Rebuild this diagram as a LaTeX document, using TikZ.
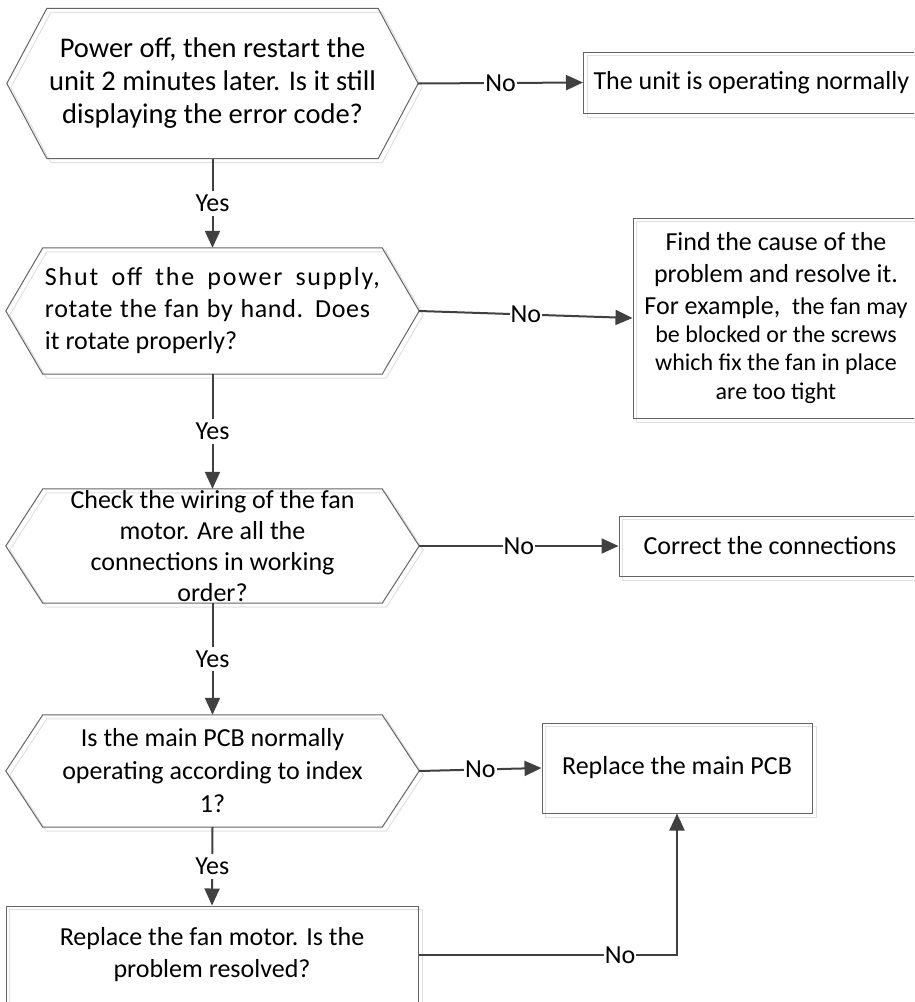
\documentclass[tikz,border=0pt]{standalone}
\usepackage{fontspec}
\setmainfont{Carlito}
\usepackage{xcolor}
\usepackage{tikz}
\usetikzlibrary{arrows.meta, positioning, calc, backgrounds}
\definecolor{linecolor}{HTML}{404040}
\definecolor{edgecolor}{HTML}{646464}
\definecolor{ghostcolor}{HTML}{E0E0E0}

\begin{document}
\begin{tikzpicture}[x=1pt, y=-1pt,
    decision/.style={rectangle, inner xsep=2pt, inner ysep=0pt, align=center, font=\fontsize{26pt}{32pt}\selectfont},
    outcome/.style={rectangle, draw=edgecolor, line width=1pt, inner xsep=8pt, inner ysep=0pt, align=center, font=\fontsize{26pt}{32pt}\selectfont},
    hexline/.style={draw=edgecolor, line width=1pt, line join=miter},
    ghost/.style={draw=ghostcolor, line width=1pt, transform canvas={xshift=4pt, yshift=-4pt}},
    arrow/.style={-{Triangle[length=17pt, width=15pt]}, linecolor, line width=2pt},
    answer/.style={fill=white, text=black, inner xsep=1pt, inner ysep=4pt, font=\fontsize{26pt}{32pt}\selectfont}
]
\useasboundingbox (0,0) rectangle (914,1002);
\clip (0,0) rectangle (914,1002);

% Questions down the left side
\node[decision, minimum width=327pt, minimum height=150pt, font=\fontsize{28.5pt}{33pt}\selectfont] (restart) at (212.5,83.5) {Power off, then restart the\\unit 2 minutes later. Is it still\\displaying the error code?};
\node[decision, minimum width=339pt, minimum height=126pt, align=left] (rotate) at (212.5,311) {\makebox[335pt][s]{\addfontfeatures{LetterSpace=7}Shut off the power supply,}\\\makebox[325pt][s]{\addfontfeatures{LetterSpace=2.5}rotate the fan by hand. Does}\\it rotate properly?};
\node[decision, minimum width=339pt, minimum height=114pt, font=\fontsize{26pt}{31pt}\selectfont] (wiring) at (212.5,546) {Check the wiring of the fan\\motor. Are all the\\connections in working\\order?};
\node[decision, minimum width=339pt, minimum height=112pt, font=\fontsize{26pt}{33pt}\selectfont] (mainpcb) at (212.5,771) {Is the main PCB normally\\operating according to index\\1?};

% Outcomes on the right side
\node[outcome, anchor=west, minimum height=61pt, text width=330pt, align=flush left, inner xsep=10pt] (normal) at (583,82.5) {The unit is operating normally};
\node[outcome, minimum width=286pt, minimum height=200pt] (cause) at (776,318) {Find the cause of the\\problem and resolve it.\\For example,~ {\fontsize{24pt}{29pt}\selectfont the fan may}\\[-4pt]{\fontsize{24pt}{29pt}\selectfont be blocked or the screws}\\[-4pt]{\fontsize{24pt}{29pt}\selectfont which fix the fan in place}\\[-3pt]{\fontsize{24pt}{29pt}\selectfont are too tight}};
\node[outcome, minimum width=302pt, minimum height=60pt] (connections) at (770,546) {Correct the connections};
\node[outcome, minimum width=270pt, minimum height=90pt] (newpcb) at (677,768) {Replace the main PCB};
\node[outcome, minimum width=412pt, minimum height=98pt] (motor) at (212,955) {Replace the fan motor. Is the\\problem resolved?};

% Hexagon outlines round the questions
\foreach \q/\d in {restart/40, rotate/37, wiring/37, mainpcb/37} {
  \draw[hexline] (\q.north west) -- (\q.north east) -- ([xshift=\d pt]\q.east) -- (\q.south east) -- (\q.south west) -- ([xshift=-\d pt]\q.west) -- cycle;
  \coordinate (\q-tip) at ([xshift=\d pt]\q.east);
}

% Faint offset copies
\begin{scope}[on background layer]
\foreach \q/\d in {restart/40, rotate/37, wiring/37, mainpcb/37}
  \draw[ghost] (\q.north west) -- (\q.north east) -- ([xshift=\d pt]\q.east) -- (\q.south east) -- (\q.south west) -- ([xshift=-\d pt]\q.west) -- cycle;
\foreach \b in {normal, cause, connections, newpcb, motor}
  \draw[ghost] (\b.north west) rectangle (\b.south east);
\end{scope}

% Yes branches
\draw[arrow] (restart.south) -- node[answer] (yes-a) {Yes} (rotate.north);
\draw[arrow] (rotate.south) -- node[answer] (yes-b) {Yes} (wiring.north);
\draw[arrow] (wiring.south) -- node[answer] (yes-c) {Yes} (mainpcb.north);
\draw[arrow] (mainpcb.south) -- node[answer] (yes-d) {Yes} (motor.north);

% No branches
\draw[arrow] (restart-tip) -- node[answer] (no-a) {No} (normal.west);
\draw[arrow] (rotate-tip) -- node[answer] (no-b) {No} (cause.west);
\draw[arrow] (wiring-tip) -- node[answer] (no-c) {No} (connections.west);
\draw[arrow] (mainpcb-tip) -- node[answer] (no-d) {No} (newpcb.west);
\draw[arrow] (motor.east) -| node[answer, pos=0.39] (no-e) {No} (newpcb.south);
\end{tikzpicture}
\end{document}
